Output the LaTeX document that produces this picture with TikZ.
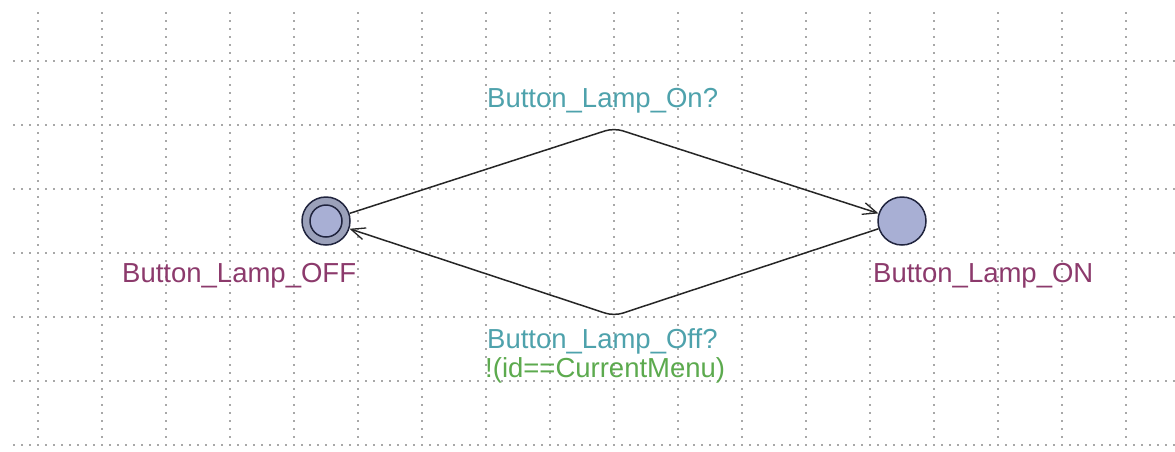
\documentclass[tikz,border=0pt]{standalone}
\usepackage{fontspec}
\setmainfont{Liberation Sans}
\usetikzlibrary{arrows.meta}
\definecolor{gridgray}{RGB}{168,168,168}
\definecolor{locfill}{RGB}{168,175,212}
\definecolor{initfill}{RGB}{155,161,186}
\definecolor{locline}{RGB}{32,36,62}
\definecolor{syncol}{RGB}{78,162,172}
\definecolor{guardcol}{RGB}{92,170,78}
\definecolor{namecol}{RGB}{140,58,108}
\tikzset{
  gridline/.style={gridgray, line width=1.7pt, dash pattern=on 1.7pt off 6.3pt},
  location/.style={circle, draw=locline, line width=1.5pt, fill=locfill,
    minimum size=48pt, inner sep=0pt},
  initring/.style={location, fill=initfill},
  initcore/.style={circle, draw=locline, line width=1.5pt, fill=locfill,
    minimum size=32pt, inner sep=0pt},
  edge/.style={draw=black!85, line width=1.5pt, rounded corners=9pt,
    -{Straight Barb[length=14pt, width=12pt, line width=1.3pt]}},
  lbl/.style={anchor=base west, inner sep=0pt,
    font=\fontsize{27.5}{30}\selectfont},
}
\begin{document}
\begin{tikzpicture}[x=1pt, y=-1pt]
  \useasboundingbox (0,0) rectangle (1175,451);
  \fill[white] (0,0) rectangle (1175,451);
  % dotted background grid
  \foreach \y in {61,125,...,445}
    \draw[gridline] (13,\y) -- (1175,\y);
  \foreach \x in {38,102,...,1126}
    \draw[gridline] (\x,12) -- (\x,451);
  % locations
  \node[initring] (off) at (326,221) {};
  \node[initcore] (offcore) at (off.center) {};
  \node[location] (on) at (902,221) {};
  % nails of the two edges
  \coordinate (upper) at (614,128);
  \coordinate (lower) at (614,316);
  % edges
  \draw[edge] (off) -- (upper) -- (on);
  \draw[edge] (on) -- (lower) -- (off);
  % labels
  \node[lbl, text=syncol] (syncOn) at (487,107) {Button\_Lamp\_On?};
  \node[lbl, text=syncol] (syncOff) at (487,348) {Button\_Lamp\_Off?};
  \node[lbl, text=guardcol] (guard) at (485,377) {!(id==CurrentMenu)};
  \node[lbl, text=namecol] (nameOff) at (122,282) {Button\_Lamp\_OFF};
  \node[lbl, text=namecol] (nameOn) at (873,282) {Button\_Lamp\_ON};
\end{tikzpicture}
\end{document}
